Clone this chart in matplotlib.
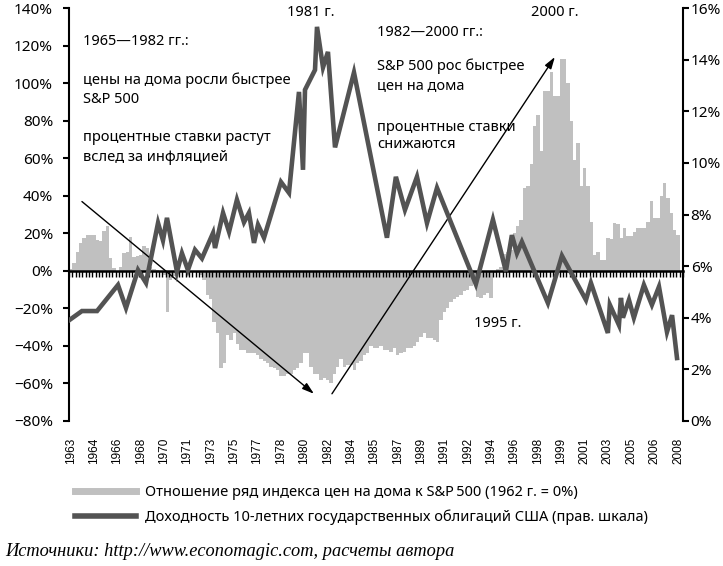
import matplotlib
matplotlib.use("Agg")
import matplotlib.pyplot as plt
import numpy as np
from matplotlib.lines import Line2D

plt.rcParams['font.family'] = ['Noto Sans', 'DejaVu Sans']

first_year = 1963

# house price index vs S&P 500, % (1962 = 0%), quarterly, one row per year
ratio_pct = [
    1, 4, 10, 15,            # 1963
    17.5, 19, 19, 19,        # 1964
    16.5, 16, 21, 24,        # 1965
    7, 1.5, 0, 2,            # 1966
    9.5, 10, 18, 7.5,        # 1967
    8, 8.5, 13, 12,          # 1968
    2, 1, 0.5, 0,            # 1969
    -2, -22, -5, -3,         # 1970
    -1, 0, 0, -1,            # 1971
    0, 0, -1, -2,            # 1972
    -5, -13, -15, -27,       # 1973
    -33, -52, -49, -34,      # 1974
    -37, -33, -39, -42,      # 1975
    -42, -44, -44, -44,      # 1976
    -45, -47, -48, -49,      # 1977
    -51, -52, -53, -56,      # 1978
    -56, -55, -55, -53,      # 1979
    -52, -49, -44, -44,      # 1980
    -51, -55, -55, -58,      # 1981
    -57, -58, -60, -55,      # 1982
    -51, -47, -51, -50,      # 1983
    -50, -53, -49, -48,      # 1984
    -45, -44, -40, -41,      # 1985
    -41, -40, -42, -42,      # 1986
    -43, -41, -45, -44,      # 1987
    -43, -41, -41, -40,      # 1988
    -38, -35, -33, -36,      # 1989
    -36, -37, -38, -26,      # 1990
    -22, -20, -16.5, -15,    # 1991
    -14, -13, -11, -10,      # 1992
    -8, -5, -14, -14.5,      # 1993
    -13, -12, -14.5, -1,     # 1994
    1, 2, 9, 10,             # 1995
    11, 20, 24, 27,          # 1996
    44, 45, 57, 77,          # 1997
    83, 64, 96, 96,          # 1998
    106, 93, 93, 113,        # 1999
    113, 100, 80, 59,        # 2000
    68, 45, 55, 45,          # 2001
    26, 8.5, 10, 6,          # 2002
    6, 17.5, 17, 25.5,       # 2003
    25, 17.5, 23, 18.5,      # 2004
    18.5, 20.5, 23, 23,      # 2005
    23, 26, 37, 28,          # 2006
    28, 40, 47, 39,          # 2007
    31, 22, 19, np.nan,      # 2008
]

# 10-year treasury yield, % (right scale)
yield_dates = [1963.0, 1963.97, 1965.10, 1966.67, 1967.27, 1968.17, 1968.77, 1969.67,
               1970.04, 1970.34, 1971.09, 1971.46, 1971.91, 1972.44, 1972.96, 1973.79,
               1973.94, 1974.54, 1974.99, 1975.58, 1976.11, 1976.48, 1976.86, 1977.16,
               1977.61, 1978.88, 1979.48, 1980.23, 1980.53, 1980.68, 1981.43, 1981.58,
               1982.03, 1982.40, 1982.93, 1984.35, 1986.82, 1987.49, 1988.17, 1989.07,
               1989.82, 1990.57, 1993.48, 1994.76, 1995.73, 1996.18, 1996.56, 1996.93,
               1998.88, 1999.93, 2001.73, 2002.10, 2003.37, 2003.52, 2004.20, 2004.35,
               2004.50, 2004.95, 2005.32, 2006.07, 2006.67, 2007.20, 2007.80, 2008.18,
               2008.55]
yield_pct = [3.9, 4.26, 4.26, 5.27, 4.38, 5.85, 5.35, 7.67,
             7.0, 7.87, 5.78, 6.5, 5.85, 6.63, 6.3, 7.28,
             6.7, 8.06, 7.33, 8.57, 7.7, 8.06, 6.9, 7.6,
             7.1, 9.26, 8.84, 12.75, 9.73, 12.83, 13.6, 15.27,
             13.7, 14.3, 10.6, 13.5, 7.1, 9.46, 8.18, 9.46,
             7.67, 9.03, 5.3, 7.8, 5.8, 7.2, 6.5, 6.94,
             4.57, 6.4, 4.69, 5.35, 3.41, 4.5, 3.72, 4.77,
             4.0, 4.69, 4.0, 5.27, 4.5, 5.2, 3.45, 4.1,
             2.44]

bar_label = "Отношение ряд индекса цен на дома к S&P\u2009500 (1962 г. = 0%)"
line_label = "Доходность 10-летних государственных облигаций США (прав. шкала)"
source = "Источники: http://www.economagic.com, расчеты автора"

BAR_COLOR = '#c0c0c0'
LINE_COLOR = '#535353'


def pos(year):
    # fractional year -> category position (quarters)
    return (np.asarray(year) - first_year) * 4 - 0.5


n = len(ratio_pct)
idx = np.arange(n)

fig = plt.figure(figsize=(7.23, 5.66), dpi=100)
ax = fig.add_axes([69 / 723, 1 - 421 / 566, 614 / 723, 413 / 566])

ax.bar(idx, ratio_pct, width=1.0, color=BAR_COLOR, linewidth=0, zorder=1)
ax.set_xlim(-0.5, n - 0.5)
ax.set_ylim(-80, 140)

yt = np.arange(-80, 141, 20)
ax.set_yticks(yt)
ax.set_yticklabels([f"{v}%".replace('-', '\u2212') for v in yt])

tick_idx = idx[::7]
ax.set_xticks(tick_idx)
ax.set_xticklabels([str(first_year + i // 4) for i in tick_idx], rotation=90,
                   fontsize=8.5, family='Liberation Sans')
ax.tick_params(axis='x', length=0, pad=12)
ax.tick_params(axis='y', length=4.5, width=1.5, direction='out', labelsize=11, pad=7)

for s in ['top', 'bottom', 'right']:
    ax.spines[s].set_visible(False)
ax.spines['left'].set_linewidth(1.5)

# zero line with category ticks
zero_ax = ax.secondary_xaxis(80 / 220)
zero_ax.set_xticks(np.arange(n + 1) - 0.5)
zero_ax.tick_params(axis='x', length=4, width=1, direction='out',
                    labelbottom=False, labeltop=False)
for s in zero_ax.spines.values():
    s.set_linewidth(1.8)
zero_ax.set_zorder(5)

# right axis
ax2 = ax.twinx()
ax2.plot(pos(yield_dates), yield_pct, color=LINE_COLOR, lw=3.3,
         solid_joinstyle='miter', zorder=3)
ax2.set_ylim(0, 16)
rt = np.arange(0, 17, 2)
ax2.set_yticks(rt)
ax2.set_yticklabels([f"{v}%" for v in rt])
ax2.tick_params(axis='y', length=4, width=1.5, direction='out', labelsize=11, pad=1.5)
for s in ['top', 'bottom', 'left']:
    ax2.spines[s].set_visible(False)
ax2.spines['right'].set_linewidth(1.5)

# annotations
fs = 10.5
ax.text(pos(1964.05), 121.9, "1965\u20141982 гг.:", fontsize=fs, va='center')
ax.text(pos(1964.05), 101.6, "цены на дома росли быстрее", fontsize=fs, va='center')
ax.text(pos(1964.05), 91.5, "S&P 500", fontsize=fs, va='center')
ax.text(pos(1964.05), 70.8, "процентные ставки растут", fontsize=fs, va='center')
ax.text(pos(1964.05), 60.1, "вслед за инфляцией", fontsize=fs, va='center')

ax.text(pos(1986.07), 127.2, "1982\u20142000 гг.:", fontsize=fs, va='center')
ax.text(pos(1986.07), 109.1, "S&P 500 рос быстрее", fontsize=fs, va='center')
ax.text(pos(1986.07), 98.5, "цен на дома", fontsize=fs, va='center')
ax.text(pos(1986.07), 76.6, "процентные ставки", fontsize=fs, va='center')
ax.text(pos(1986.07), 67.1, "снижаются", fontsize=fs, va='center')

ax.text(pos(1981.13), 137.8, "1981 г.", fontsize=fs, ha='center', va='center')
ax.text(pos(1999.4), 137.8, "2000 г.", fontsize=fs, ha='center', va='center')
ax.text(pos(1995.13), -28.2, "1995 г.", fontsize=fs, ha='center', va='center')

arrow = dict(arrowstyle='-|>,head_length=0.7,head_width=0.22', color='black',
             lw=1.0, shrinkA=0, shrinkB=0)
ax.annotate("", xy=(pos(1981.35), -65.5), xytext=(pos(1963.97), 36.9),
            arrowprops=arrow, zorder=4)
ax.annotate("", xy=(pos(1999.4), 113.9), xytext=(pos(1982.7), -65.5),
            arrowprops=arrow, zorder=4)

handles = [Line2D([], [], color=BAR_COLOR, lw=5),
           Line2D([], [], color=LINE_COLOR, lw=4)]
fig.legend(handles, [bar_label, line_label], loc='center',
           bbox_to_anchor=(0.5, 1 - 505 / 566), frameon=False, fontsize=10.5,
           handlelength=4.2, labelspacing=0.65, borderpad=0, handletextpad=0.6)

fig.text(5 / 723, 1 - 551 / 566, source, fontsize=13.2, style='italic',
         family='Liberation Serif', va='center')

fig.savefig("out.png", dpi=100)
